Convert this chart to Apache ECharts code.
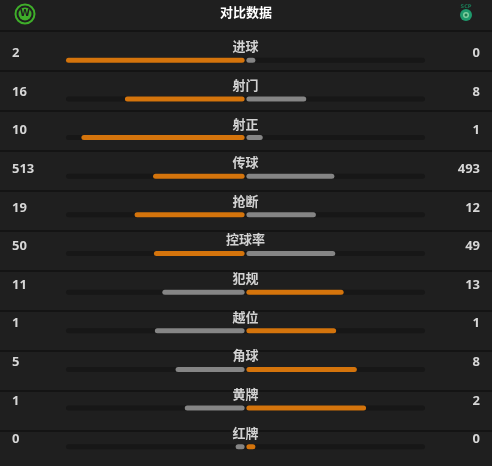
<!DOCTYPE html>
<html>
<head>
<meta charset="utf-8">
<script src="https://cdn.jsdelivr.net/npm/echarts@6/dist/echarts.min.js"></script>
<style>
  html, body { margin: 0; padding: 0; background: #1f1f1f; }
  #main { width: 492px; height: 466px; }
</style>
</head>
<body>
<div id="main"></div>
<script>
// 对比数据
const categories = ['进球', '射门', '射正', '传球', '抢断', '控球率', '犯规', '越位', '角球', '黄牌', '红牌']
const homeValues = [2, 16, 10, 513, 19, 50, 11, 1, 5, 1, 0]
const awayValues = [0, 8, 1, 493, 12, 49, 13, 1, 8, 2, 0]

const ORANGE = '#d4740c'
const GRAY = '#858585'
const MIN_SHARE = 5   // 0 的时候也留一小段
const GAP = 0.5

const share = (v, total) => total === 0 ? MIN_SHARE : Math.max(v / total * 100, MIN_SHARE)

const homeData = []
const awayData = []
categories.forEach((c, i) => {
  const h = homeValues[i], a = awayValues[i]
  const total = h + a
  // 多的一方用橙色，相等时客队橙色
  const homeWins = h > a
  homeData.push({ value: -share(h, total), itemStyle: { color: homeWins ? ORANGE : GRAY } })
  awayData.push({ value: share(a, total), itemStyle: { color: homeWins ? GRAY : ORANGE } })
})

const chart = echarts.init(document.getElementById('main'))

const rowSep = []
for (let i = 0; i <= categories.length; i++) rowSep.push(30 + i * 40)

// 数字标签往上挪半行
const numLabel = {
  color: '#d6d6d6', fontSize: 13, fontWeight: 'bold', fontFamily: 'Noto Sans',
  rich: {
    n: { lineHeight: 20, color: '#d6d6d6', fontSize: 13, fontWeight: 'bold', fontFamily: 'Noto Sans' },
    s: { lineHeight: 14 }
  }
}

chart.setOption({
  backgroundColor: '#1f1f1f',
  animation: false,
  graphic: [
    // 分隔线
    ...rowSep.map(y => ({
      type: 'rect', shape: { x: 0, y: y, width: 492, height: 2 },
      style: { fill: '#141414' }, silent: true
    })),
    {
      type: 'text', left: 'center', top: 6,
      style: { text: '对比数据', fill: '#ffffff', font: 'bold 13px "Noto Sans CJK SC"' }
    },
    // 主队队徽
    { type: 'circle', shape: { cx: 25, cy: 14, r: 9.5 }, style: { fill: 'none', stroke: '#3fae2a', lineWidth: 2 } },
    { type: 'circle', shape: { cx: 25, cy: 14, r: 6.5 }, style: { fill: '#3fae2a' } },
    { type: 'text', x: 25, y: 14, style: { text: 'W', fill: '#1f1f1f', font: 'bold 9px "DejaVu Sans"', align: 'center', verticalAlign: 'middle' } },
    // 客队队徽
    { type: 'text', x: 466, y: 7, style: { text: 'SCP', fill: '#1a7a55', font: 'bold 5px "DejaVu Sans"', align: 'center', verticalAlign: 'middle' } },
    { type: 'circle', shape: { cx: 466, cy: 15, r: 6 }, style: { fill: '#1e9a6c' } },
    { type: 'circle', shape: { cx: 466, cy: 15, r: 3 }, style: { fill: '#7fcf9f' } },
    { type: 'circle', shape: { cx: 466, cy: 15, r: 1.5 }, style: { fill: '#1e7a50' } }
  ],
  grid: { left: 66, right: 67, top: 41, height: 440 },
  xAxis: {
    type: 'value', min: -100, max: 100,
    show: false
  },
  yAxis: [
    {
      type: 'category', data: categories, inverse: true,
      axisLine: { show: false }, axisTick: { show: false }, splitLine: { show: false },
      axisLabel: Object.assign({
        formatter: (v, i) => '{n|' + homeValues[i] + '}\n{s|}',
        align: 'left', margin: 54
      }, numLabel)
    },
    {
      type: 'category', data: categories, inverse: true, position: 'right',
      axisLine: { show: false }, axisTick: { show: false }, splitLine: { show: false },
      axisLabel: Object.assign({
        formatter: (v, i) => '{n|' + awayValues[i] + '}\n{s|}',
        align: 'right', margin: 55
      }, numLabel)
    }
  ],
  series: [
    {
      type: 'bar', stack: 'home', barWidth: 5, silent: true,
      showBackground: true,
      backgroundStyle: { color: '#171717', borderRadius: 3 },
      itemStyle: { color: 'transparent' },
      data: categories.map(() => -GAP)
    },
    {
      type: 'bar', stack: 'home', barWidth: 5, silent: true,
      itemStyle: { borderRadius: 3 },
      data: homeData
    },
    {
      type: 'bar', stack: 'away', barWidth: 5, barGap: '-100%', silent: true,
      itemStyle: { color: 'transparent' },
      data: categories.map(() => GAP)
    },
    {
      type: 'bar', stack: 'away', barWidth: 5, silent: true,
      itemStyle: { borderRadius: 3 },
      data: awayData
    },
    {
      // 项目名称
      type: 'scatter', symbolSize: 0, silent: true,
      data: categories.map((c, i) => [0, i]),
      label: {
        show: true, position: 'inside', offset: [0, -14],
        formatter: p => categories[p.dataIndex],
        color: '#ffffff', fontSize: 13, fontWeight: 'bold', fontFamily: 'Noto Sans CJK SC'
      }
    }
  ]
})

window.addEventListener('resize', () => chart.resize())
</script>
</body>
</html>
